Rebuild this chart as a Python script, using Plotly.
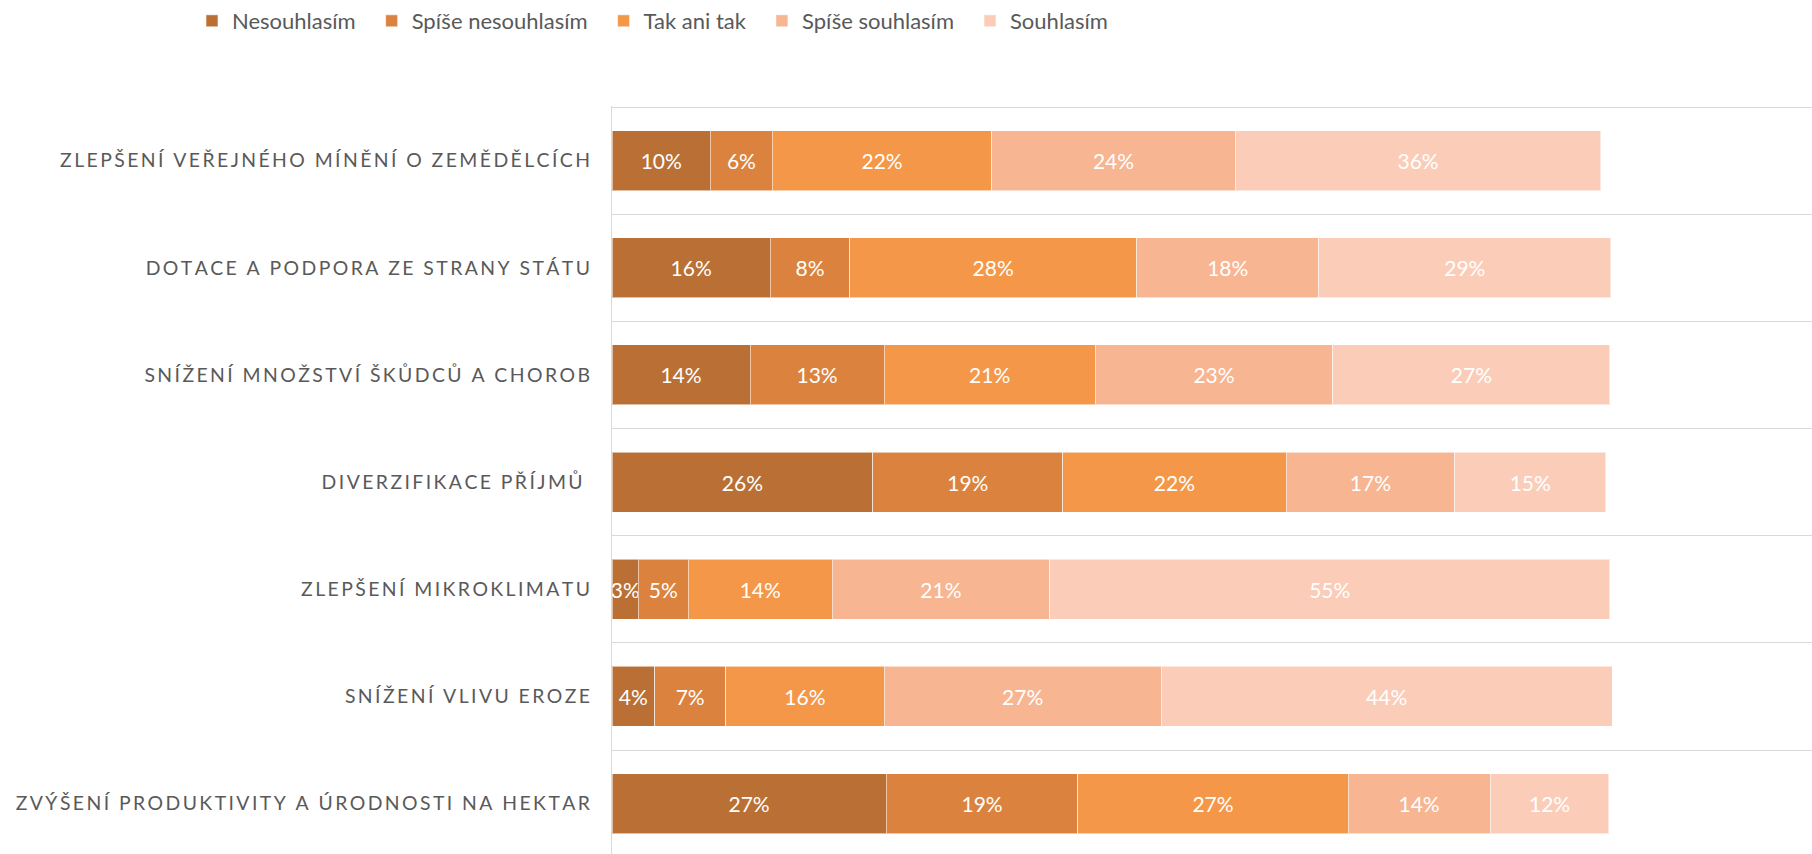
import plotly.graph_objects as go

# ---- data (top-to-bottom order as in the reference) ----
categories = [
    "ZLEPŠENÍ VEŘEJNÉHO MÍNĚNÍ O ZEMĚDĚLCÍCH",
    "DOTACE A PODPORA ZE STRANY STÁTU",
    "SNÍŽENÍ MNOŽSTVÍ ŠKŮDCŮ A CHOROB",
    "DIVERZIFIKACE PŘÍJMŮ ",
    "ZLEPŠENÍ MIKROKLIMATU",
    "SNÍŽENÍ VLIVU EROZE",
    "ZVÝŠENÍ PRODUKTIVITY A ÚRODNOSTI NA HEKTAR",
]
series_names = ["Nesouhlasím", "Spíše nesouhlasím", "Tak ani tak", "Spíše souhlasím", "Souhlasím"]
nesouhlasim = [0.097, 0.156, 0.136, 0.257, 0.026, 0.042, 0.270]
spise_nesouhlasim = [0.061, 0.078, 0.132, 0.187, 0.049, 0.070, 0.189]
tak_ani_tak = [0.216, 0.283, 0.208, 0.220, 0.142, 0.156, 0.266]
spise_souhlasim = [0.240, 0.179, 0.234, 0.166, 0.214, 0.273, 0.140]
souhlasim = [0.360, 0.288, 0.273, 0.149, 0.552, 0.444, 0.117]
colors = ["#BA7034", "#DB833E", "#F59748", "#F8B592", "#FBCDB9"]

series_values = [nesouhlasim, spise_nesouhlasim, tak_ani_tak, spise_souhlasim, souhlasim]

FONT = "Lato, 'Open Sans', sans-serif"
SP = "\u2009"


def spaced(label):
    # emulate the letter-spacing of the original category labels
    return SP.join(label)


spaced_cats = [spaced(c) for c in categories]

fig = go.Figure()
for name, vals, col in zip(series_names, series_values, colors):
    fig.add_trace(go.Bar(
        y=spaced_cats,
        x=vals,
        name=name + "\u2002",
        orientation="h",
        marker=dict(color=col, line=dict(color="rgba(255,255,255,0.55)", width=1)),
        texttemplate="%{x:.0%}",
        textposition="inside",
        insidetextanchor="middle",
        textangle=0,
        textfont=dict(family=FONT, size=21, color="white"),
        hoverinfo="x+name",
    ))

fig.update_layout(
    width=1812,
    height=854,
    barmode="stack",
    bargap=0.44,
    paper_bgcolor="white",
    plot_bgcolor="white",
    margin=dict(l=612, r=0, t=105, b=0),
    uniformtext=dict(mode="show", minsize=21),
    font=dict(family=FONT, color="#595959"),
    legend=dict(
        orientation="h",
        x=-0.350,
        xanchor="left",
        y=1.1135,
        yanchor="middle",
        font=dict(family=FONT, size=22, color="#595959"),
        traceorder="normal",
        itemclick=False,
    ),
    xaxis=dict(
        range=[0, 1.182],
        visible=False,
        showgrid=False,
        zeroline=False,
    ),
    yaxis=dict(
        type="category",
        categoryorder="array",
        categoryarray=spaced_cats,
        range=[6.47, -0.51],
        tickson="boundaries",
        showgrid=True,
        gridcolor="#D9D9D9",
        gridwidth=1.3,
        showline=True,
        linecolor="#D9D9D9",
        linewidth=1.3,
        ticks="",
        ticklabelstandoff=17,
        tickfont=dict(family=FONT, size=19.4, color="#595959"),
        zeroline=False,
    ),
)

fig.write_html(
    "out.html",
    config={"displayModeBar": False},
    post_script="document.body.style.margin='0';document.body.style.overflow='hidden';",
)
